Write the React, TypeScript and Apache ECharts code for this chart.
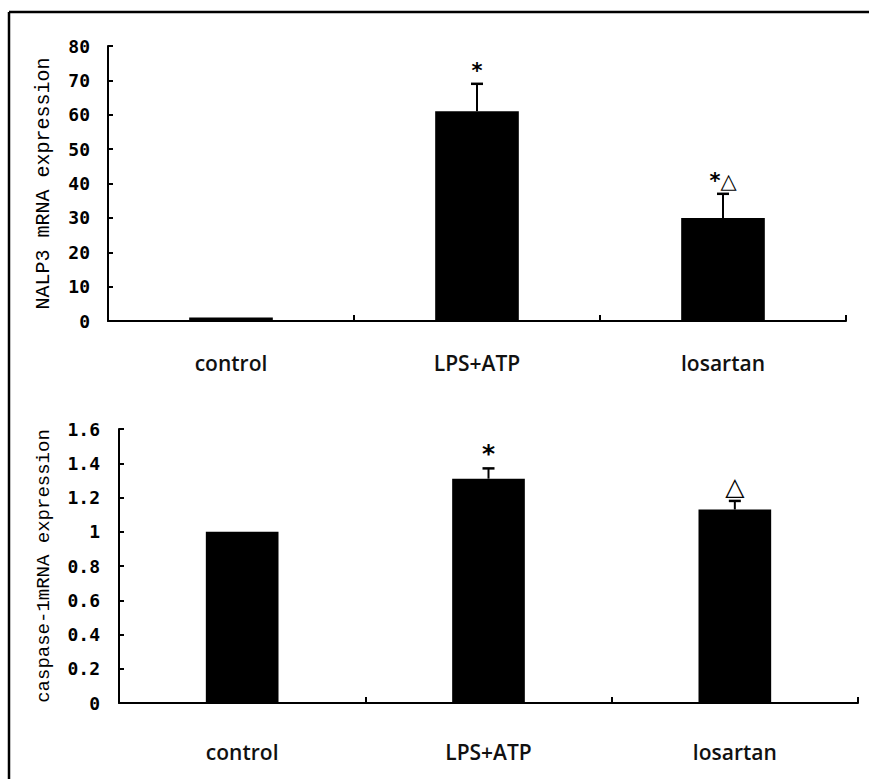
import React, { useEffect, useRef } from "react";
import * as echarts from "echarts";

const categories = ["control", "LPS+ATP", "losartan"];
const nalp3Values = [1, 61, 30];
const nalp3Errors = [0, 8, 7];
const nalp3Marks = ["", "*", "*△"];
const caspValues = [1.0, 1.31, 1.13];
const caspErrors = [0, 0.06, 0.05];
const caspMarks = ["", "*", "△"];

const monoFont = "Liberation Mono";
const tickFont = "DejaVu Sans Mono";
const catFont = "Open Sans";

function errorSeries(values: number[], errors: number[], marks: string[], idx: number, markSize: number) {
  return {
    type: "custom",
    xAxisIndex: idx,
    yAxisIndex: idx,
    z: 5,
    data: values.map((v, i) => [i, v, errors[i]]),
    renderItem: (params: any, api: any) => {
      const i = api.value(0);
      const v = api.value(1);
      const e = api.value(2);
      const base = api.coord([i, v]);
      const top = api.coord([i, v + e]);
      const children: any[] = [];
      if (e > 0) {
        children.push({
          type: "line",
          shape: { x1: base[0], y1: base[1], x2: top[0], y2: top[1] },
          style: { stroke: "#000", lineWidth: 2 },
        });
        children.push({
          type: "line",
          shape: { x1: top[0] - 6, y1: top[1], x2: top[0] + 6, y2: top[1] },
          style: { stroke: "#000", lineWidth: 2.5 },
        });
      }
      const m = marks[params.dataIndex];
      if (m) {
        children.push({
          type: "text",
          x: top[0],
          y: top[1] - 2,
          style: {
            text: m,
            fill: "#000",
            font: `bold ${markSize}px "DejaVu Sans"`,
            textAlign: "center",
            textVerticalAlign: "bottom",
          },
        });
      }
      return { type: "group", children };
    },
  };
}

export default function App() {
  const ref = useRef<HTMLDivElement>(null);
  useEffect(() => {
    document.body.style.margin = "0";
    const chart = echarts.init(ref.current!, undefined, { renderer: "svg" });
    const axisLineStyle = { color: "#000", width: 2 };
    const yLabel = { color: "#000", fontFamily: tickFont, fontSize: 18, fontWeight: "bold" as const };
    const xLabel = { color: "#111", fontFamily: catFont, fontSize: 21, fontWeight: 600 };
    chart.setOption({
      animation: false,
      backgroundColor: "#fff",
      grid: [
        { left: 108, right: 23, top: 46, bottom: 458 },
        { left: 119, right: 11, top: 429, bottom: 76 },
      ],
      xAxis: [
        {
          type: "category",
          gridIndex: 0,
          data: categories,
          axisLine: { show: true, lineStyle: axisLineStyle },
          axisTick: { show: true, inside: true, length: 6, lineStyle: { color: "#000", width: 2 } },
          axisLabel: { ...xLabel, margin: 31 },
        },
        {
          type: "category",
          gridIndex: 1,
          data: categories,
          axisLine: { show: true, lineStyle: axisLineStyle },
          axisTick: { show: true, inside: true, length: 6, lineStyle: { color: "#000", width: 2 } },
          axisLabel: { ...xLabel, margin: 38 },
        },
      ],
      yAxis: [
        {
          type: "value",
          gridIndex: 0,
          min: 0,
          max: 80,
          interval: 10,
          name: "NALP3 mRNA expression",
          nameLocation: "middle",
          nameGap: 55,
          nameTextStyle: { color: "#000", fontFamily: monoFont, fontSize: 20 },
          axisLine: { show: true, lineStyle: axisLineStyle },
          axisTick: { show: true, inside: true, length: 5, lineStyle: { color: "#000", width: 2 } },
          splitLine: { show: false },
          axisLabel: { ...yLabel, margin: 18 },
        },
        {
          type: "value",
          gridIndex: 1,
          min: 0,
          max: 1.6,
          interval: 0.2,
          name: "caspase-1mRNA expression",
          nameLocation: "middle",
          nameGap: 66,
          nameTextStyle: { color: "#000", fontFamily: monoFont, fontSize: 19 },
          axisLine: { show: true, lineStyle: axisLineStyle },
          axisTick: { show: true, inside: true, length: 5, lineStyle: { color: "#000", width: 2 } },
          splitLine: { show: false },
          axisLabel: {
            ...yLabel,
            margin: 19,
            formatter: (v: number) => String(parseFloat(v.toFixed(1))),
          },
        },
      ],
      series: [
        {
          type: "bar",
          xAxisIndex: 0,
          yAxisIndex: 0,
          data: nalp3Values,
          barWidth: "34%",
          itemStyle: { color: "#000" },
        },
        {
          type: "bar",
          xAxisIndex: 1,
          yAxisIndex: 1,
          data: caspValues,
          barWidth: "29.5%",
          itemStyle: { color: "#000" },
        },
        errorSeries(nalp3Values, nalp3Errors, nalp3Marks, 0, 21),
        errorSeries(caspValues, caspErrors, caspMarks, 1, 25),
      ],
      graphic: [
        { type: "line", shape: { x1: 9, y1: 12, x2: 869, y2: 12 }, style: { stroke: "#000", lineWidth: 2.5 } },
        { type: "line", shape: { x1: 9, y1: 12, x2: 9, y2: 779 }, style: { stroke: "#000", lineWidth: 2.5 } },
      ],
    });
    return () => chart.dispose();
  }, []);
  return <div ref={ref} style={{ width: 869, height: 779 }} />;
}
